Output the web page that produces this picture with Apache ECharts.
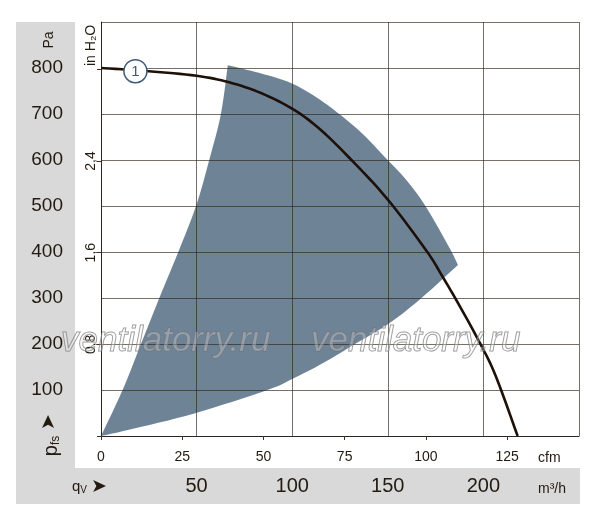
<!DOCTYPE html>
<html>
<head>
<meta charset="utf-8">
<title>Fan curve</title>
<script src="https://cdn.jsdelivr.net/npm/echarts@6/dist/echarts.min.js"></script>
<style>
html, body { margin: 0; padding: 0; background: #fff; }
#chart { width: 600px; height: 526px; }
</style>
</head>
<body>
<div id="chart"></div>
<script>
// fan curve: airflow in m3/h, static pressure in Pa
var curveQ = [0, 25, 50, 67, 84, 101, 115, 131, 150, 170, 178.7, 187.4, 198.7, 206.6, 217.9];
var curveP = [800, 793, 783, 769, 745, 709, 665, 600, 514, 404, 346, 284, 198, 129, 0];

// shaded operating range, three edges
var leftQ = [0, 11.3, 20.9, 30.5, 40.2, 49.7, 56.6, 62.7, 66.3];
var leftP = [0, 100, 200, 300, 398, 500, 600, 700, 806];
var topQ = [66.3, 83, 99, 112, 124.6, 137, 149, 160, 170, 182, 186.7];
var topP = [806, 789, 768, 738, 700, 656, 604, 555, 498, 411, 372];
var lowQ = [186.7, 168.2, 150.8, 133.3, 115.9, 100, 87, 48.8, 14, 0];
var lowP = [372, 302, 245, 201, 158, 124, 100, 49, 13, 0];

var markerPoint = [18, 793];
var flowLabels = [50, 100, 150, 200];      // m3/h
var paLabels = [100, 200, 300, 400, 500, 600, 700, 800];
var inH2OLabels = [0.8, 1.6, 2.4];

var cfmMax = 250 / 1.699;      // same span as 0..250 m3/h
var inH2OMax = 900 / 249.09;   // same span as 0..900 Pa

var TXT = '#231a10';
var GRAY = '#d9d9d9';
var FONT = 'Liberation Sans';

// catmull-rom through pixel points so edges are drawn smooth
function spline(pts, steps) {
  var out = [];
  var n = pts.length;
  for (var i = 0; i < n - 1; i++) {
    var p0 = pts[Math.max(i - 1, 0)], p1 = pts[i], p2 = pts[i + 1], p3 = pts[Math.min(i + 2, n - 1)];
    for (var s = 0; s < steps; s++) {
      var t = s / steps, t2 = t * t, t3 = t2 * t;
      out.push([0, 1].map(function (k) {
        return 0.5 * ((2 * p1[k]) + (-p0[k] + p2[k]) * t +
          (2 * p0[k] - 5 * p1[k] + 4 * p2[k] - p3[k]) * t2 +
          (-p0[k] + 3 * p1[k] - 3 * p2[k] + p3[k]) * t3);
      }));
    }
  }
  out.push(pts[n - 1]);
  return out;
}

function edge(api, qs, ps) {
  return spline(qs.map(function (q, i) { return api.coord([q, ps[i]]); }), 8);
}

var chart = echarts.init(document.getElementById('chart'));

chart.setOption({
  animation: false,
  backgroundColor: '#fff',
  textStyle: { fontFamily: FONT },
  grid: { left: 101, right: 21, top: 22, bottom: 90, show: false },
  xAxis: [
    {
      type: 'value', min: 0, max: 250, interval: 50, position: 'bottom',
      axisLine: { show: true, lineStyle: { color: '#2e251c', width: 1 } },
      axisTick: { show: false },
      axisLabel: {
        margin: 40, fontSize: 20, color: TXT, fontFamily: FONT,
        formatter: function (v) { return flowLabels.indexOf(v) >= 0 ? String(v) : ''; }
      },
      splitLine: { show: true, lineStyle: { color: 'rgba(45,35,25,0.65)', width: 1 } }
    },
    {
      type: 'value', min: 0, max: cfmMax, interval: 25, position: 'bottom',
      axisLine: { show: false },
      axisTick: { show: true, length: 4, lineStyle: { color: '#3a3028' } },
      axisLabel: {
        margin: 14, fontSize: 14, color: TXT, fontFamily: FONT, showMaxLabel: false,
        formatter: function (v) { return Math.abs(v % 25) < 1e-6 ? String(Math.round(v)) : ''; }
      },
      splitLine: { show: false }
    }
  ],
  yAxis: [
    {
      type: 'value', min: 0, max: 900, interval: 100, position: 'left',
      axisLine: { show: true, lineStyle: { color: '#2e251c', width: 1 } },
      axisTick: { show: false },
      axisLabel: {
        margin: 38, fontSize: 19, color: TXT, fontFamily: FONT,
        formatter: function (v) { return paLabels.indexOf(v) >= 0 ? String(v) : ''; }
      },
      splitLine: { show: true, lineStyle: { color: 'rgba(45,35,25,0.65)', width: 1 } }
    },
    {
      type: 'value', min: 0, max: inH2OMax, interval: 0.8, position: 'left',
      axisLine: { show: false },
      axisTick: { show: true, length: 4, lineStyle: { color: '#3a3028' } },
      axisLabel: {
        rotate: 90, align: 'center', verticalAlign: 'bottom', margin: 3,
        fontSize: 14, color: TXT, fontFamily: FONT, showMaxLabel: false,
        formatter: function (v) {
          for (var i = 0; i < inH2OLabels.length; i++) {
            if (Math.abs(v - inH2OLabels[i]) < 1e-6) return inH2OLabels[i].toFixed(1).replace('.', ',');
          }
          return '';
        }
      },
      splitLine: { show: false }
    }
  ],
  series: [
    {
      // operating range
      type: 'custom',
      xAxisIndex: 0, yAxisIndex: 0,
      z: -1,
      data: [0],
      silent: true,
      renderItem: function (params, api) {
        var pts = edge(api, leftQ, leftP).concat(edge(api, topQ, topP).slice(1), edge(api, lowQ, lowP).slice(1));
        return { type: 'polygon', shape: { points: pts }, style: { fill: '#6f8397' } };
      }
    },
    {
      // fan curve with its number marker
      type: 'custom',
      xAxisIndex: 0, yAxisIndex: 0,
      z: 3,
      data: [0],
      silent: true,
      renderItem: function (params, api) {
        var m = api.coord(markerPoint);
        return {
          type: 'group',
          children: [
            { type: 'polyline', shape: { points: edge(api, curveQ, curveP) },
              style: { stroke: '#1c1008', lineWidth: 2.6, fill: 'none', lineJoin: 'round' } },
            { type: 'circle', shape: { cx: m[0], cy: m[1], r: 11.5 },
              style: { fill: '#fff', stroke: '#3e5a78', lineWidth: 1.5 } },
            { type: 'text', x: m[0], y: m[1] + 0.5,
              style: { text: '1', fontSize: 15, fontFamily: FONT, fill: '#3e5a78', align: 'center', verticalAlign: 'middle' } }
          ]
        };
      }
    }
  ],
  graphic: [
    { type: 'rect', z: -100, shape: { x: 16, y: 22, width: 59, height: 482 }, style: { fill: GRAY } },
    { type: 'rect', z: -100, shape: { x: 16, y: 468, width: 564, height: 36 }, style: { fill: GRAY } },
    { type: 'text', x: 49, y: 40, rotation: Math.PI / 2,
      style: { text: 'Pa', fontSize: 14, fontFamily: FONT, fill: TXT, align: 'center', verticalAlign: 'middle' } },
    { type: 'text', x: 98, y: 66, rotation: Math.PI / 2,
      style: { text: 'in H\u2082O', fontSize: 14, fontFamily: FONT, fill: TXT, align: 'left', verticalAlign: 'bottom' } },
    { type: 'text', x: 49, y: 422, rotation: Math.PI / 2,
      style: { text: '\u27A4', fontSize: 19, fill: TXT, align: 'center', verticalAlign: 'middle' } },
    { type: 'text', x: 51, y: 446, rotation: Math.PI / 2,
      style: {
        text: '{p|p}{s|fs}', fill: TXT, align: 'center', verticalAlign: 'middle',
        rich: {
          p: { fontSize: 20, fontFamily: FONT, fill: TXT, lineHeight: 22 },
          s: { fontSize: 12, fontFamily: FONT, fill: TXT, verticalAlign: 'bottom' }
        }
      } },
    { type: 'text', x: 72, y: 487,
      style: {
        text: '{q|q}{s|V}', fill: TXT, align: 'left', verticalAlign: 'middle',
        rich: {
          q: { fontSize: 15, fontFamily: FONT, fill: TXT, lineHeight: 17 },
          s: { fontSize: 10, fontFamily: FONT, fill: TXT, verticalAlign: 'bottom' }
        }
      } },
    { type: 'text', x: 99, y: 487,
      style: { text: '\u27A4', fontSize: 19, fill: TXT, align: 'center', verticalAlign: 'middle' } },
    { type: 'text', x: 538, y: 458,
      style: { text: 'cfm', fontSize: 14, fontFamily: FONT, fill: TXT, align: 'left', verticalAlign: 'middle' } },
    { type: 'text', x: 538, y: 489,
      style: { text: 'm\u00B3/h', fontSize: 14, fontFamily: FONT, fill: TXT, align: 'left', verticalAlign: 'middle' } },
    { type: 'text', x: 61, y: 341, z: 50,
      style: { text: 'ventilatorry.ru', fontSize: 35, fontStyle: 'italic', fontFamily: FONT,
               fill: 'rgba(255,255,255,0.25)', stroke: 'rgba(110,110,110,0.75)', lineWidth: 1,
               align: 'left', verticalAlign: 'middle' } },
    { type: 'text', x: 311, y: 341, z: 50,
      style: { text: 'ventilatorry.ru', fontSize: 35, fontStyle: 'italic', fontFamily: FONT,
               fill: 'rgba(255,255,255,0.25)', stroke: 'rgba(110,110,110,0.75)', lineWidth: 1,
               align: 'left', verticalAlign: 'middle' } }
  ]
});
</script>
</body>
</html>
